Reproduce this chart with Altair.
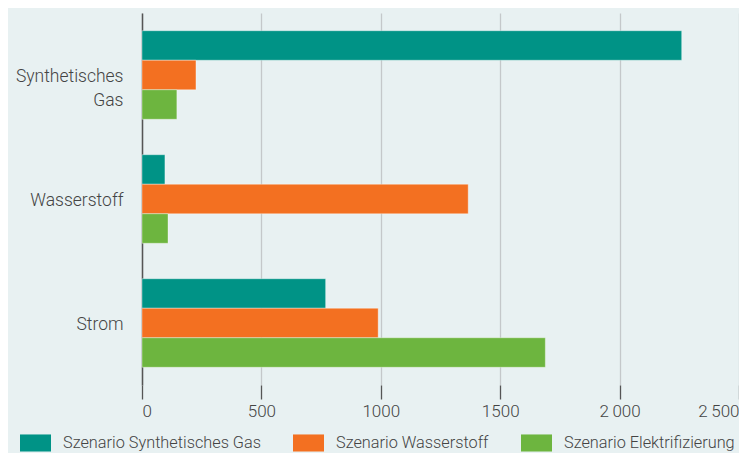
import altair as alt
import pandas as pd

categories = ["Synthetisches Gas", "Wasserstoff", "Strom"]
scenarios = ["Szenario Synthetisches Gas", "Szenario Wasserstoff", "Szenario Elektrifizierung"]
colors = ["#009386", "#F37021", "#6DB53F"]

syn_gas = [2260, 96, 769]
wasserstoff = [226, 1366, 989]
elektrifizierung = [146, 109, 1689]

tick_values = [0, 500, 1000, 1500, 2000, 2500]
tick_labels = ["0", "500", "1000", "1500", "2\u2009000", "2\u2009500"]

rows = []
for s, vals in zip(scenarios, [syn_gas, wasserstoff, elektrifizierung]):
    for c, v in zip(categories, vals):
        rows.append({"Kategorie": c, "Szenario": s, "Wert": v})
df = pd.DataFrame(rows)

label_expr = " : ".join(
    f"datum.value == {v} ? '{l}'" for v, l in zip(tick_values, tick_labels)
) + " : datum.label"

font = "Roboto"
text_color = "#444444"

chart = alt.Chart(df).mark_bar(
    stroke="#ffffff", strokeWidth=0.8, strokeOpacity=0.45
).encode(
    x=alt.X("Wert:Q",
            scale=alt.Scale(domain=[0, 2500], nice=False),
            axis=alt.Axis(values=tick_values, title=None, labelExpr=label_expr,
                          domain=False, grid=True, gridColor="#c4c8ca", gridWidth=1.3,
                          ticks=True, tickSize=14, tickColor="#555555", tickWidth=1.3,
                          labelPadding=4, labelFontSize=17, labelColor=text_color,
                          labelFont=font, labelFontWeight=300, labelFlush=True)),
    y=alt.Y("Kategorie:N", sort=categories,
            scale=alt.Scale(paddingInner=0.286, paddingOuter=0.143),
            axis=alt.Axis(title=None, ticks=False, domain=True, domainColor="#555555",
                          domainWidth=1.5, labelPadding=19, labelFontSize=17.5,
                          labelColor=text_color, labelFont=font, labelFontWeight=300,
                          labelLineHeight=24, labelOffset=2,
                          labelExpr="datum.label == 'Synthetisches Gas' ? ['Synthetisches', 'Gas'] : datum.label")),
    yOffset=alt.YOffset("Szenario:N", sort=scenarios),
    color=alt.Color("Szenario:N", sort=scenarios,
                    scale=alt.Scale(domain=scenarios, range=colors),
                    legend=alt.Legend(title=None, orient="none", direction="horizontal",
                                      legendX=-122, legendY=414,
                                      symbolType="M-1,-0.55L1,-0.55L1,0.55L-1,0.55Z",
                                      symbolSize=961, symbolStrokeWidth=0, symbolOpacity=1,
                                      labelOffset=12, columnPadding=32,
                                      labelFontSize=16.3, labelColor=text_color,
                                      labelFont=font, labelFontWeight=300, labelLimit=400)),
).properties(
    width=597, height=372,
    autosize=alt.AutoSizeParams(type="none"),
    padding={"left": 134, "top": 5, "right": 0, "bottom": 68},
).configure(
    background="#E8F1F2",
).configure_view(stroke=None)

chart.save("out.html", embed_options={"renderer": "svg", "actions": False})
